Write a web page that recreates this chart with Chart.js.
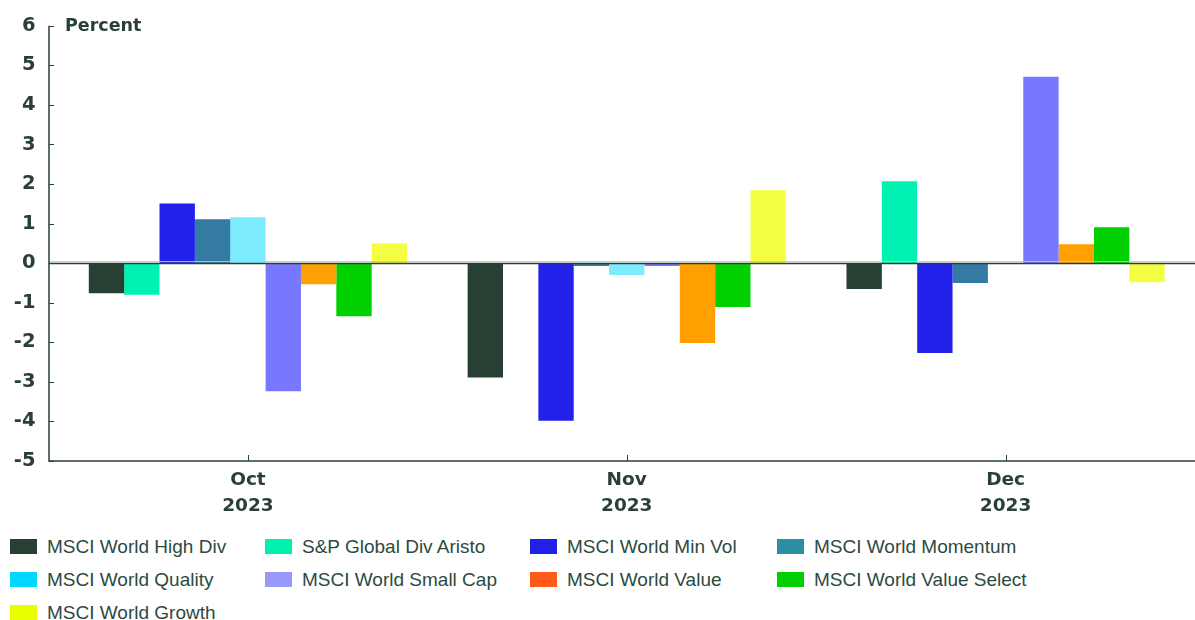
<!DOCTYPE html>
<html>
<head>
<meta charset="utf-8">
<script src="https://cdn.jsdelivr.net/npm/chart.js@4.4.0/dist/chart.umd.min.js"></script>
<style>
  html, body { margin: 0; padding: 0; background: #fff; overflow: hidden; }
  #wrap { position: relative; width: 1195px; height: 530px; }
  #chart { position: absolute; left: 0; top: -7px; }
  #legend {
    display: grid;
    grid-template-columns: 255px 265px 247px auto;
    grid-auto-rows: 33px;
    padding-left: 10px;
    font-family: "Liberation Sans", Arial, sans-serif;
    font-size: 19px;
    color: #2d4a3e;
  }
  .lg-item { display: flex; align-items: center; white-space: nowrap; }
  .lg-box { width: 27px; height: 15px; margin-right: 10px; flex: none; }
</style>
</head>
<body>
<div id="wrap"><canvas id="chart" width="1195" height="537"></canvas></div>
<div id="legend"></div>

<script>
// Monthly factor index returns, percent
const categories = [["Oct", "2023"], ["Nov", "2023"], ["Dec", "2023"]];
const seriesNames = [
  "MSCI World High Div", "S&P Global Div Aristo", "MSCI World Min Vol", "MSCI World Momentum",
  "MSCI World Quality", "MSCI World Small Cap", "MSCI World Value", "MSCI World Value Select",
  "MSCI World Growth",
];
const highDiv     = [-0.76, -2.89, -0.65];
const divAristo   = [-0.80, null, 2.07];
const minVol      = [1.51, -3.98, -2.27];
const momentum    = [1.11, -0.07, -0.50];
const quality     = [1.16, -0.30, null];
const smallCap    = [-3.24, -0.07, 4.71];
const value       = [-0.53, -2.02, 0.48];
const valueSelect = [-1.34, -1.11, 0.91];
const growth      = [0.50, 1.84, -0.48];
const yTicks = [-5, -4, -3, -2, -1, 0, 1, 2, 3, 4, 5, 6];

const seriesValues = [highDiv, divAristo, minVol, momentum, quality, smallCap, value, valueSelect, growth];

// bar fills differ a bit from the legend swatches in the original
const barColors = ["#283f33", "#00f2b2", "#2121ea", "#337ba2", "#7eecff", "#7878ff", "#ffa000", "#00d000", "#f4ff44"];
const swatchColors = ["#283f33", "#00f0b0", "#2020e8", "#2a8fa0", "#00d8ff", "#9999fb", "#ff5a1a", "#00d000", "#e8ff00"];

const INK = "#2a4035";

const axisMarks = {
  id: "axisMarks",
  afterDatasetsDraw(chart) {
    const { ctx, chartArea, scales } = chart;
    const y = scales.y, x = scales.x;
    const axisX = 49;
    const top = y.getPixelForValue(6);
    const bottom = y.getPixelForValue(-5);
    const y0 = y.getPixelForValue(0);
    ctx.save();

    // zero line
    ctx.lineWidth = 1;
    ctx.strokeStyle = "#c4cac6";
    ctx.beginPath(); ctx.moveTo(axisX, y0 - 1.5); ctx.lineTo(chartArea.right, y0 - 1.5); ctx.stroke();
    ctx.strokeStyle = INK;
    ctx.lineWidth = 1.5;
    ctx.beginPath(); ctx.moveTo(axisX, y0 + 0.25); ctx.lineTo(chartArea.right, y0 + 0.25); ctx.stroke();

    // axis lines
    ctx.lineWidth = 1.5;
    ctx.beginPath();
    ctx.moveTo(axisX, top); ctx.lineTo(axisX, bottom); ctx.lineTo(chartArea.right, bottom);
    ctx.stroke();

    // inward ticks
    ctx.lineWidth = 1;
    for (const v of yTicks) {
      const py = Math.round(y.getPixelForValue(v)) + 0.5;
      ctx.beginPath(); ctx.moveTo(axisX, py); ctx.lineTo(axisX + 5, py); ctx.stroke();
    }
    categories.forEach((c, i) => {
      const px = Math.round(x.getPixelForValue(i)) + 0.5;
      ctx.beginPath(); ctx.moveTo(px, bottom - 6); ctx.lineTo(px, bottom); ctx.stroke();
    });

    // unit label
    ctx.fillStyle = INK;
    ctx.font = "bold 17.5px 'DejaVu Sans', sans-serif";
    ctx.textBaseline = "middle";
    ctx.textAlign = "left";
    ctx.fillText("Percent", 65, top + 1);
    ctx.restore();
  },
};

new Chart(document.getElementById("chart"), {
  type: "bar",
  data: {
    labels: categories,
    datasets: seriesNames.map((name, i) => ({
      label: name,
      data: seriesValues[i],
      backgroundColor: barColors[i],
      borderWidth: 0,
      categoryPercentage: 0.84,
      barPercentage: 1.0,
    })),
  },
  options: {
    responsive: false,
    animation: false,
    devicePixelRatio: 1,
    layout: { padding: { top: 0, right: 0, left: 0, bottom: 0 } },
    plugins: { legend: { display: false }, tooltip: { enabled: false } },
    scales: {
      x: {
        grid: { display: false, drawTicks: false },
        border: { display: false },
        ticks: {
          color: INK,
          padding: 6,
          font: { family: "'DejaVu Sans', sans-serif", weight: "bold", size: 18.5, lineHeight: 1.4 },
        },
        afterFit(s) { s.height = 69; },
      },
      y: {
        min: -5,
        max: 6,
        grid: { display: false, drawTicks: false },
        border: { display: false },
        ticks: {
          stepSize: 1,
          color: INK,
          padding: 23,
          font: { family: "'DejaVu Sans', sans-serif", weight: "bold", size: 19.5, lineHeight: 1 },
        },
        afterFit(s) { s.width = 58.5; },
      },
    },
  },
  plugins: [axisMarks],
});

// legend, laid out in four columns like the original
const legend = document.getElementById("legend");
seriesNames.forEach((name, i) => {
  const item = document.createElement("div");
  item.className = "lg-item";
  const box = document.createElement("span");
  box.className = "lg-box";
  box.style.background = swatchColors[i];
  const txt = document.createElement("span");
  txt.textContent = name;
  item.appendChild(box);
  item.appendChild(txt);
  legend.appendChild(item);
});
</script>
</body>
</html>
